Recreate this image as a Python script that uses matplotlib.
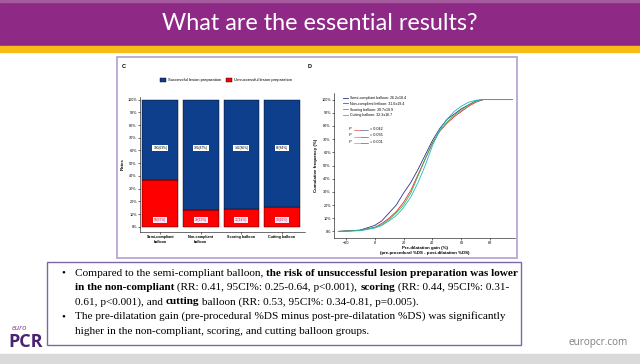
import matplotlib
matplotlib.use("Agg")
import matplotlib.pyplot as plt
from matplotlib.patches import Rectangle
import numpy as np

# ---------------- data ----------------
title = "What are the essential results?"

bar_categories = ["Semi-compliant\nballoon", "Non-compliant\nballoon", "Scoring balloon", "Cutting balloon"]
success_pct = [63, 87, 86, 84]
fail_pct = [37, 13, 14, 16]
success_n = [100, 192, 142, 96]
fail_n = [58, 29, 23, 18]
bar_yticks = [0, 10, 20, 30, 40, 50, 60, 70, 80, 90, 100]

gain_x = [-25, -10, 0, 5, 10, 15, 20, 25, 30, 35, 40, 45, 50, 55, 60, 65, 70, 75, 95]
cum_semi = [0, 1, 4.5, 8, 14, 20, 29, 37, 47, 58, 69, 78, 85, 89, 93, 96, 99, 100, 100]
cum_non = [0, 0.8, 3, 6, 10, 15, 22, 31, 43, 55, 67, 76, 82, 87, 91, 95, 98, 100, 100]
cum_scoring = [0, 0.8, 3, 5, 9, 14, 20, 29, 42, 55, 67, 76, 83, 88, 92, 96, 99, 100, 100]
cum_cutting = [0, 0.5, 2.5, 4.5, 8, 12, 18, 26, 37, 50, 65, 77, 85, 91, 95, 98, 99.5, 100, 100]
cdf_labels = ["Semi-compliant balloon: 26.2\u00b118.4", "Non-compliant balloon: 31.0\u00b119.4",
              "Scoring balloon: 30.7\u00b119.9", "Cutting balloon: 32.3\u00b116.7"]
p_values = ["0.042", "0.035", "0.001"]
gain_xticks = [-20, 0, 20, 40, 60, 80]

body_lines = [
    [("Compared to the semi-compliant balloon, ", False), ("the risk of unsuccessful lesion preparation was lower", True)],
    [("in the non-compliant", True), (" (RR: 0.41, 95CI%: 0.25-0.64, p<0.001), ", False), ("scoring", True), (" (RR: 0.44, 95CI%: 0.31-", False)],
    [("0.61, p<0.001), and ", False), ("cutting", True), (" balloon (RR: 0.53, 95CI%: 0.34-0.81, p=0.005).", False)],
    [("The pre-dilatation gain (pre-procedural %DS minus post-pre-dilatation %DS) was significantly", False)],
    [("higher in the non-compliant, scoring, and cutting balloon groups.", False)],
]
bullet_lines = [0, 3]

# ---------------- styles ----------------
PURPLE = "#8E2A86"
YELLOW = "#F6BD16"
NAVY = "#0E3F8C"
RED = "#FF0000"
C_SEMI, C_NON, C_SCO, C_CUT = "#27358F", "#E8262B", "#3CB44A", "#22B5C8"

W, H = 640, 364
fig = plt.figure(figsize=(6.4, 3.64), dpi=100)
bg = fig.add_axes([0, 0, 1, 1])
bg.set_xlim(0, W)
bg.set_ylim(H, 0)
bg.axis("off")

def ax_px(x0, y0, x1, y1):
    return fig.add_axes([x0 / W, 1 - y1 / H, (x1 - x0) / W, (y1 - y0) / H])

# header
bg.add_patch(Rectangle((0, 0), W, 46, color=PURPLE, zorder=1))
bg.add_patch(Rectangle((0, 0), W, 2, color="#A65A9E", zorder=1))
bg.add_patch(Rectangle((0, 46), W, 6, color=YELLOW, zorder=1))
bg.text(W / 2, 23, title, color="white", fontsize=16.8, family="Lato",
        ha="center", va="center", zorder=2)

# chart frame
bg.add_patch(Rectangle((117, 57), 400, 201, facecolor="white", edgecolor="#B9A7D4", lw=1.3, zorder=1))
bg.text(124, 67, "C", fontsize=4, fontweight="bold", family="Liberation Sans", ha="center", va="center")
bg.text(310, 67, "D", fontsize=4, fontweight="bold", family="Liberation Sans", ha="center", va="center")

# text box
bg.add_patch(Rectangle((47, 262), 474, 83, facecolor="white", edgecolor="#7D66A8", lw=1.0, zorder=1))
# bottom band
bg.add_patch(Rectangle((0, 354), W, 10, color="#DADADA", zorder=1))
bg.text(628, 343, "europcr.com", color="#7F7F7F", fontsize=7.2, family="Open Sans", ha="right", va="center")
bg.text(12, 328, "euro", color="#7A3A96", fontsize=5.5, family="Open Sans", fontstyle="italic", ha="left", va="center")
bg.text(8, 342, "PCR", color="#4A2370", fontsize=13, family="Open Sans", fontweight="bold", ha="left", va="center")

# ---------------- panel C ----------------
axc = ax_px(140, 97, 305, 232)
xpos = np.arange(len(bar_categories))
fails = np.array(fail_pct) / 100
succ = np.array(success_pct) / 100
axc.bar(xpos, fails, width=0.88, color=RED, edgecolor="black", lw=0.3)
axc.bar(xpos, succ, bottom=fails, width=0.88, color=NAVY, edgecolor="black", lw=0.3)
for i in range(len(xpos)):
    axc.text(xpos[i], 0.62, f"{success_n[i]}({success_pct[i]}%)", fontsize=2.3, ha="center", va="center",
             family="Liberation Sans",
             bbox=dict(boxstyle="square,pad=0.3", fc="white", ec="none"))
    axc.text(xpos[i], 0.055, f"{fail_n[i]}({fail_pct[i]}%)", fontsize=2.3, ha="center", va="center",
             family="Liberation Sans", color="#C0135A",
             bbox=dict(boxstyle="square,pad=0.3", fc="#FFE6F2", ec="none"))
axc.set_xlim(-0.5, 3.57)
axc.set_ylim(-0.04, 1.02)
axc.set_yticks(np.array(bar_yticks) / 100)
axc.set_yticklabels([f"{v}%" for v in bar_yticks])
axc.set_xticks(xpos)
axc.set_xticklabels(bar_categories, fontweight="bold")
for s in ["top", "right"]:
    axc.spines[s].set_visible(False)
for s in ["left", "bottom"]:
    axc.spines[s].set_linewidth(0.4)
axc.tick_params(labelsize=2.7, length=1.2, width=0.4, pad=1)
for lab in axc.get_xticklabels() + axc.get_yticklabels():
    lab.set_family("Liberation Sans")
axc.set_ylabel("Rates", fontsize=3.2, fontweight="bold", labelpad=2, family="Liberation Sans")
hc = [Rectangle((0, 0), 1, 1, fc=NAVY, ec="black", lw=0.3), Rectangle((0, 0), 1, 1, fc=RED, ec="black", lw=0.3)]
fig.legend(hc, ["Successful lesion preparation", "Unsuccessful lesion preparation"],
           loc="center", bbox_to_anchor=(226 / W, 1 - 80 / H), ncol=2, frameon=False,
           prop=dict(size=3.0, family="Liberation Sans"), handlelength=1.6, handleheight=1.4,
           columnspacing=1.0, handletextpad=0.5)

# ---------------- panel D ----------------
axd = ax_px(334, 93, 515, 238)
series = [(cum_semi, C_SEMI), (cum_non, C_NON), (cum_scoring, C_SCO), (cum_cutting, C_CUT)]
handles = []
for (vals, col), lab in zip(series, cdf_labels):
    h, = axd.plot(gain_x, vals, color=col, lw=0.6, label=lab)
    handles.append(h)
axd.set_xlim(-28, 97)
axd.set_ylim(-5, 105)
axd.set_xticks(gain_xticks)
axd.set_yticks(bar_yticks)
axd.set_yticklabels([f"{v}%" for v in bar_yticks])
for s in ["top", "right"]:
    axd.spines[s].set_visible(False)
for s in ["left", "bottom"]:
    axd.spines[s].set_linewidth(0.4)
axd.tick_params(labelsize=2.7, length=1.2, width=0.4, pad=1)
for lab in axd.get_xticklabels() + axd.get_yticklabels():
    lab.set_family("Liberation Sans")
axd.set_ylabel("Cumulative frequency (%)", fontsize=3.2, fontweight="bold", labelpad=2, family="Liberation Sans")
axd.set_xlabel("Pre-dilatation gain (%)\n(pre-procedural %DS - post-dilatation %DS)", fontsize=3.2,
               fontweight="bold", labelpad=1, family="Liberation Sans", linespacing=1.1)
axd.legend(handles=handles, loc="upper left", bbox_to_anchor=(0.04, 0.99), frameon=False,
           prop=dict(size=2.6, family="Liberation Sans"), handlelength=1.5, handletextpad=0.4,
           labelspacing=0.5, borderaxespad=0)
pairs = [(C_NON, C_SEMI), (C_SCO, C_SEMI), (C_CUT, C_SEMI)]
for k, (pv, pr) in enumerate(zip(p_values, pairs)):
    yv = 0.755 - k * 0.045
    axd.text(0.085, yv, "P", transform=axd.transAxes, fontsize=2.7, style="italic",
             family="Liberation Sans", va="center")
    axd.plot([0.11, 0.15], [yv - 0.012, yv - 0.012], transform=axd.transAxes, color=pr[0], lw=0.4)
    axd.plot([0.15, 0.19], [yv - 0.012, yv - 0.012], transform=axd.transAxes, color=pr[1], lw=0.4)
    axd.text(0.20, yv, f"= {pv}", transform=axd.transAxes, fontsize=2.7, family="Liberation Sans", va="center")

# ---------------- body text ----------------
fig.canvas.draw()
renderer = fig.canvas.get_renderer()
x0, y0, dy = 75, 273, 14.5
for i, segs in enumerate(body_lines):
    y = y0 + i * dy
    if i in bullet_lines:
        bg.text(61, y, "\u2022", fontsize=8, family="Liberation Serif", va="center", ha="left")
    x = x0
    for s, b in segs:
        t = bg.text(x, y, s, fontsize=8.1, family="Liberation Serif", fontweight="bold" if b else "normal",
                    va="center", ha="left")
        bb = t.get_window_extent(renderer)
        x += bb.width

fig.savefig("out.png", dpi=100)
